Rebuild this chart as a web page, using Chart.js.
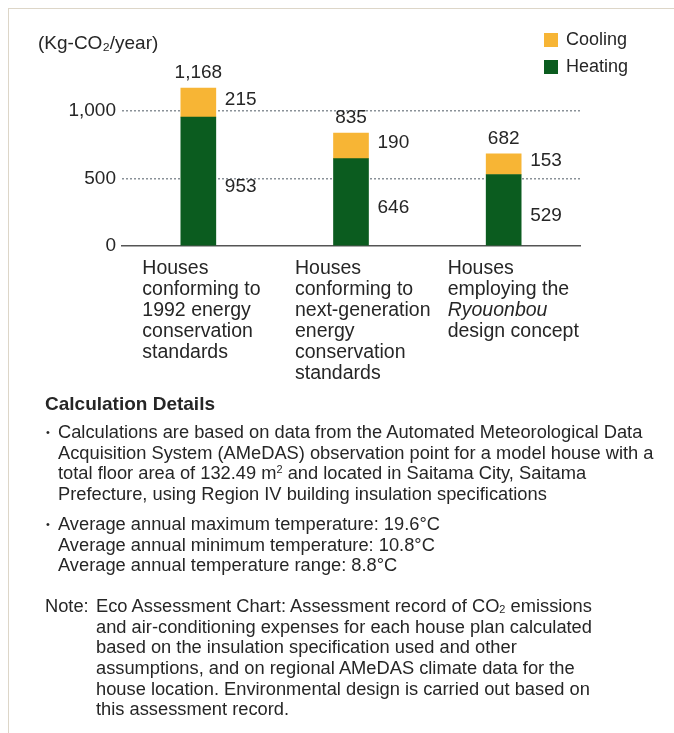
<!DOCTYPE html>
<html>
<head>
<meta charset="utf-8">
<script src="https://cdn.jsdelivr.net/npm/chart.js@4/dist/chart.umd.min.js"></script>
<style>
  html, body { margin: 0; padding: 0; background: #fff; }
  body { width: 674px; height: 733px; position: relative; overflow: hidden;
         font-family: "Liberation Sans", Arial, sans-serif; color: #262626; }
  .frame { position: absolute; left: 8px; top: 8px; width: 700px; height: 760px;
           border-top: 1px solid #ddd6c8; border-left: 1px solid #ddd6c8; }
  #chart { position: absolute; left: 0; top: 0; }
  .notes { position: absolute; left: 45px; top: 393px; font-size: 18.3px; line-height: 20.7px; white-space: nowrap; }
  .notes h3 { margin: 0 0 8px 0; font-size: 19px; font-weight: bold; line-height: 21px; }
  .item { position: relative; padding-left: 13px; }
  .item::before { content: "\2022"; position: absolute; left: 1px; top: 0; font-size: 11px; }
  .gap { height: 9px; }
  .note { position: relative; padding-left: 51px; margin-top: 20px; }
  .note .tag { position: absolute; left: 0; top: 0; }
  sub { font-size: 60%; vertical-align: -1px; line-height: 0; }
  sup { font-size: 60%; vertical-align: 6px; line-height: 0; }
</style>
</head>
<body>
<div class="frame"></div>
<canvas id="chart" width="674" height="395"></canvas>
<div class="notes">
  <h3>Calculation Details</h3>
  <div class="item">Calculations are based on data from the Automated Meteorological Data<br>Acquisition System (AMeDAS) observation point for a model house with a<br>total floor area of 132.49 m<sup>2</sup> and located in Saitama City, Saitama<br>Prefecture, using Region IV building insulation specifications</div>
  <div class="gap"></div>
  <div class="item">Average annual maximum temperature: 19.6°C<br>Average annual minimum temperature: 10.8°C<br>Average annual temperature range: 8.8°C</div>
  <div class="note"><span class="tag">Note:</span>Eco Assessment Chart: Assessment record of CO<sub>2</sub> emissions<br>and air-conditioning expenses for each house plan calculated<br>based on the insulation specification used and other<br>assumptions, and on regional AMeDAS climate data for the<br>house location. Environmental design is carried out based on<br>this assessment record.</div>
</div>
<script>
// house types, one line of the label per entry
var categories = [
  ['Houses', 'conforming to', '1992 energy', 'conservation', 'standards'],
  ['Houses', 'conforming to', 'next-generation', 'energy', 'conservation', 'standards'],
  ['Houses', 'employing the', 'Ryouonbou', 'design concept']
];
var italicWords = ['Ryouonbou'];

var heating = [953, 646, 529];
var cooling = [215, 190, 153];
// published totals (rounded separately from the two parts)
var totals = [1168, 835, 682];

var yTicks = [0, 500, 1000];
var unitLabel = '(Kg-CO\u2082/year)';

var GREEN = '#0b5c1f';
var YELLOW = '#f7b535';
var TEXT = '#262626';
var FONT = '"Liberation Sans", Arial, sans-serif';

function fmt(v) {
  return v.toLocaleString('en-US');
}

// value labels, totals, legend, unit and the category captions
var annotate = {
  id: 'annotate',
  afterDraw: function(chart) {
    var ctx = chart.ctx;
    var area = chart.chartArea;
    var heatMeta = chart.getDatasetMeta(0);
    var coolMeta = chart.getDatasetMeta(1);

    ctx.save();
    ctx.fillStyle = TEXT;
    ctx.font = '19px ' + FONT;
    ctx.textBaseline = 'middle';

    heatMeta.data.forEach(function(bar, i) {
      var top = coolMeta.data[i];
      var right = bar.x + bar.width / 2 + 9;
      ctx.textAlign = 'left';
      ctx.fillText(fmt(heating[i]), right, (bar.y + bar.base) / 2 + 6);
      ctx.fillText(fmt(cooling[i]), right, (top.y + top.base) / 2 - 3);
      ctx.textAlign = 'center';
      ctx.fillText(fmt(totals[i]), bar.x, top.y - 15);
    });

    // unit
    ctx.textAlign = 'left';
    ctx.fillText(unitLabel, 38, 44);

    // legend, top series first
    ctx.font = '18px ' + FONT;
    var items = chart.data.datasets.slice().reverse();
    items.forEach(function(ds, k) {
      var y = 40 + k * 27;
      ctx.fillStyle = ds.backgroundColor;
      ctx.fillRect(544, y - 7, 14, 14);
      ctx.fillStyle = TEXT;
      ctx.fillText(ds.label, 566, y);
    });

    // category captions, left aligned under each bar
    var xs = chart.scales.x;
    categories.forEach(function(lines, i) {
      var left = xs.getPixelForValue(i) - 56;
      lines.forEach(function(line, j) {
        var y = area.bottom + 23 + j * 21;
        var x = left;
        line.split(' ').forEach(function(word, w) {
          ctx.font = (italicWords.indexOf(word) >= 0 ? 'italic ' : '') + '19.5px ' + FONT;
          var txt = (w > 0 ? ' ' : '') + word;
          ctx.fillText(txt, x, y);
          x += ctx.measureText(txt).width;
        });
      });
    });
    ctx.restore();
  }
};

Chart.defaults.font.family = FONT;
Chart.defaults.color = TEXT;

new Chart(document.getElementById('chart'), {
  type: 'bar',
  data: {
    labels: categories.map(function(c) { return c.join(' '); }),
    datasets: [
      { label: 'Heating', data: heating, backgroundColor: GREEN, barThickness: 35 },
      { label: 'Cooling', data: cooling, backgroundColor: YELLOW, barThickness: 35 }
    ]
  },
  options: {
    responsive: false,
    animation: false,
    layout: { padding: { left: 0, right: 94, top: 77, bottom: 149 } },
    plugins: { legend: { display: false }, tooltip: { enabled: false } },
    scales: {
      x: {
        stacked: true,
        grid: { display: false },
        ticks: { display: false },
        border: { display: true, color: '#555', width: 1.5 },
        afterFit: function(s) { s.height = 0; }
      },
      y: {
        stacked: true,
        min: 0,
        max: 1250,
        afterFit: function(s) { s.width = 122; },
        afterBuildTicks: function(s) {
          s.ticks = yTicks.map(function(v) { return { value: v }; });
        },
        ticks: {
          padding: 6,
          font: { size: 19 },
          color: TEXT,
          callback: function(v) { return fmt(v); }
        },
        border: { display: false, dash: [2, 2] },
        grid: {
          drawTicks: false,
          lineWidth: 1.5,
          color: function(c) { return c.tick && c.tick.value === 0 ? 'rgba(0,0,0,0)' : '#8a9198'; }
        }
      }
    }
  },
  plugins: [annotate]
});
</script>
</body>
</html>
